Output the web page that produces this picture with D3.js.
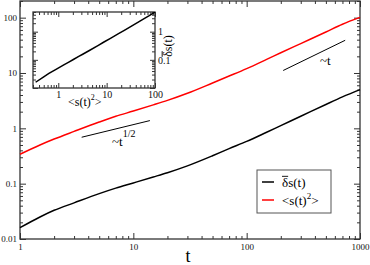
<!DOCTYPE html>
<html>
<head>
<meta charset="utf-8">
<script src="https://cdn.jsdelivr.net/npm/d3@7"></script>
<style>
  body { margin: 0; background: #fff; }
  svg { display: block; font-family: "Liberation Serif", "Times New Roman", "DejaVu Serif", serif; }
  .axis { font-family: "Liberation Serif", "Times New Roman", "DejaVu Serif", serif; }
  .axis path { stroke: #333; }
  .axis line { stroke: #333; }
</style>
</head>
<body>
<div id="chart"></div>
<script>
// time points and the two measured quantities
const times = [1, 1.5, 2, 3, 5, 7, 10, 15, 20, 30, 50, 70, 100, 150, 200, 300, 500, 700, 1000]
const msd = [0.34, 0.5, 0.64, 0.88, 1.3, 1.65, 2.05, 2.65, 3.2, 4.3, 6.6, 8.8, 12.0, 17.6, 23.2, 34, 55, 76, 101]
const deltaS = [0.016, 0.025, 0.033, 0.045, 0.066, 0.083, 0.103, 0.132, 0.158, 0.21, 0.32, 0.43, 0.58, 0.85, 1.12, 1.65, 2.7, 3.7, 5.0]

// guide lines (slope 1/2 and slope 1)
const guideHalfT = [3.5, 14]
const guideHalfV = [0.69, 1.38]
const guideOneT = [210, 740]
const guideOneV = [11.1, 39]

const xTicks = [1, 10, 100, 1000]
const yTicks = [0.01, 0.1, 1, 10, 100]
const insetXTicks = [1, 10, 100]
const insetYTicks = [0.1, 1]

const width = 370, height = 265
const margin = {top: 1, right: 10, bottom: 26, left: 20}
const w = width - margin.left - margin.right
const h = height - margin.top - margin.bottom

const svg = d3.select("#chart").append("svg")
    .attr("width", width)
    .attr("height", height)

const g = svg.append("g")
    .attr("transform", `translate(${margin.left}, ${margin.top})`)

const x = d3.scaleLog().domain([1, 1000]).range([0, w])
const y = d3.scaleLog().domain([0.01, 200]).range([h, 0])

function minors(lo, hi) {
    const out = []
    for (let p = Math.floor(Math.log10(lo)); p <= Math.ceil(Math.log10(hi)); p++) {
        for (let k = 2; k <= 9; k++) {
            const v = k * Math.pow(10, p)
            if (v >= lo && v <= hi) out.push(+v.toPrecision(3))
        }
    }
    return out
}

function fmt(d) { return d >= 1 ? String(d) : String(+d.toPrecision(1)) }

function drawAxes(sel, xs, ys, xw, yh, opt) {
    const xm = minors(xs.domain()[0], xs.domain()[1])
    const ym = minors(ys.domain()[0], ys.domain()[1])
    // bottom
    sel.append("g").attr("class", "axis").attr("transform", `translate(0,${yh})`)
        .call(d3.axisBottom(xs).tickValues(opt.xTicks).tickSize(-opt.major).tickPadding(opt.xpad).tickFormat(fmt))
        .call(a => a.selectAll("text").attr("font-size", opt.fs).attr("fill", "#111"))
    sel.append("g").attr("class", "axis").attr("transform", `translate(0,${yh})`)
        .call(d3.axisBottom(xs).tickValues(xm).tickSize(-opt.minor).tickFormat(""))
    // top
    sel.append("g").attr("class", "axis")
        .call(d3.axisTop(xs).tickValues(opt.xTicks).tickSize(-opt.major).tickFormat(""))
    sel.append("g").attr("class", "axis")
        .call(d3.axisTop(xs).tickValues(xm).tickSize(-opt.minor).tickFormat(""))
    // left
    sel.append("g").attr("class", "axis")
        .call(d3.axisLeft(ys).tickValues(opt.yMajor).tickSize(-opt.major).tickPadding(opt.ypad)
            .tickFormat(opt.yLabelsLeft ? fmt : ""))
        .call(a => a.selectAll("text").attr("font-size", opt.fs).attr("fill", "#111"))
    sel.append("g").attr("class", "axis")
        .call(d3.axisLeft(ys).tickValues(ym).tickSize(-opt.minor).tickFormat(""))
    // right
    sel.append("g").attr("class", "axis").attr("transform", `translate(${xw},0)`)
        .call(d3.axisRight(ys).tickValues(opt.yMajor).tickSize(-opt.major).tickFormat(""))
    sel.append("g").attr("class", "axis").attr("transform", `translate(${xw},0)`)
        .call(d3.axisRight(ys).tickValues(ym).tickSize(-opt.minor).tickFormat(""))
    sel.selectAll(".axis path.domain").remove()
    sel.append("rect")
        .attr("width", xw).attr("height", yh)
        .attr("fill", "none").attr("stroke", "#333").attr("stroke-width", 1.3)
}

// "δs(t)" with a bar over the delta
function deltaLabel(parent, px, py, fs, anchor) {
    const t = parent.append("text")
        .attr("x", px).attr("y", py)
        .attr("font-size", fs)
        .attr("text-anchor", anchor)
        .text("\u03b4s(t)")
    const node = t.node()
    const x0 = node.getStartPositionOfChar(0).x
    const len = node.getSubStringLength(0, 1)
    parent.append("line")
        .attr("x1", x0).attr("x2", x0 + len)
        .attr("y1", py - fs * 0.82).attr("y2", py - fs * 0.82)
        .attr("stroke", "#000").attr("stroke-width", 0.9)
}

drawAxes(g, x, y, w, h, {
    xTicks: xTicks, yMajor: yTicks, major: 6, minor: 3, xpad: 5, ypad: 3, fs: 9, yLabelsLeft: true
})

const line = d3.line()
    .curve(d3.curveMonotoneX)
    .x(d => x(d[0]))
    .y(d => y(d[1]))

g.append("path")
    .datum(times.map((t, i) => [t, msd[i]]))
    .attr("fill", "none").attr("stroke", "#ff0000").attr("stroke-width", 1.5)
    .attr("d", line)

g.append("path")
    .datum(times.map((t, i) => [t, deltaS[i]]))
    .attr("fill", "none").attr("stroke", "#000").attr("stroke-width", 1.5)
    .attr("d", line)

g.append("path")
    .datum(guideHalfT.map((t, i) => [t, guideHalfV[i]]))
    .attr("fill", "none").attr("stroke", "#000").attr("stroke-width", 1)
    .attr("d", line)

g.append("path")
    .datum(guideOneT.map((t, i) => [t, guideOneV[i]]))
    .attr("fill", "none").attr("stroke", "#000").attr("stroke-width", 1)
    .attr("d", line)

const half = g.append("text")
    .attr("x", 92).attr("y", 145)
    .attr("font-size", 13)
half.append("tspan").text("~t")
half.append("tspan").attr("dy", -9).attr("font-size", 10).text("1/2")

g.append("text")
    .attr("x", 300).attr("y", 64)
    .attr("font-size", 13)
    .text("~t")

// axis title
g.append("text")
    .attr("x", x(30) - 2).attr("y", h + 23)
    .attr("font-size", 18)
    .text("t")

// legend
const legend = g.append("g").attr("transform", "translate(237, 169)")
legend.append("rect")
    .attr("width", 74).attr("height", 43)
    .attr("fill", "#fff").attr("stroke", "#555").attr("stroke-width", 1)
const legendColors = ["#000", "#ff0000"]
legendColors.forEach((c, i) => {
    legend.append("line")
        .attr("x1", 5).attr("x2", 17)
        .attr("y1", 12 + i * 18).attr("y2", 12 + i * 18)
        .attr("stroke", c).attr("stroke-width", 1.5)
})
deltaLabel(legend, 25, 17, 13, "start")
const l2 = legend.append("text")
    .attr("x", 25).attr("y", 35)
    .attr("font-size", 13)
    .text("<s(t)")
l2.append("tspan").attr("dy", -6).attr("font-size", 9).text("2")
l2.append("tspan").attr("dy", 6).text(">")

// inset
const inset = {left: 33, top: 12, w: 122, h: 76}
const ig = svg.append("g").attr("transform", `translate(${inset.left}, ${inset.top})`)
ig.append("rect").attr("width", inset.w).attr("height", inset.h).attr("fill", "#fff")

const ix = d3.scaleLog().domain([0.3, 100]).range([0, inset.w])
const iy = d3.scaleLog().domain([0.01, 5]).range([inset.h, 0])

drawAxes(ig, ix, iy, inset.w, inset.h, {
    xTicks: insetXTicks, yMajor: [0.01, 0.1, 1], major: 5, minor: 3, xpad: 3, ypad: 3, fs: 10, yLabelsLeft: false
})

ig.append("g").attr("class", "axis").attr("transform", `translate(${inset.w},0)`)
    .call(d3.axisRight(iy).tickValues(insetYTicks).tickSize(0).tickPadding(3).tickFormat(fmt))
    .call(a => a.select(".domain").remove())
    .call(a => a.selectAll("text").attr("font-size", 10).attr("fill", "#111"))

ig.append("defs").append("clipPath").attr("id", "iclip")
    .append("rect").attr("width", inset.w).attr("height", inset.h)

ig.append("path")
    .datum(msd.map((m, i) => [m, deltaS[i]]))
    .attr("clip-path", "url(#iclip)")
    .attr("fill", "none").attr("stroke", "#000").attr("stroke-width", 1.5)
    .attr("d", d3.line().x(d => ix(d[0])).y(d => iy(d[1])))

const ixl = ig.append("text")
    .attr("x", 35).attr("y", inset.h + 18)
    .attr("font-size", 12)
    .text("<s(t)")
ixl.append("tspan").attr("dy", -6).attr("font-size", 8).text("2")
ixl.append("tspan").attr("dy", 6).text(">")

const iyl = ig.append("g")
    .attr("transform", `translate(${inset.w + 17}, 34) rotate(-90)`)
deltaLabel(iyl, 0, 0, 12, "middle")
</script>
</body>
</html>
